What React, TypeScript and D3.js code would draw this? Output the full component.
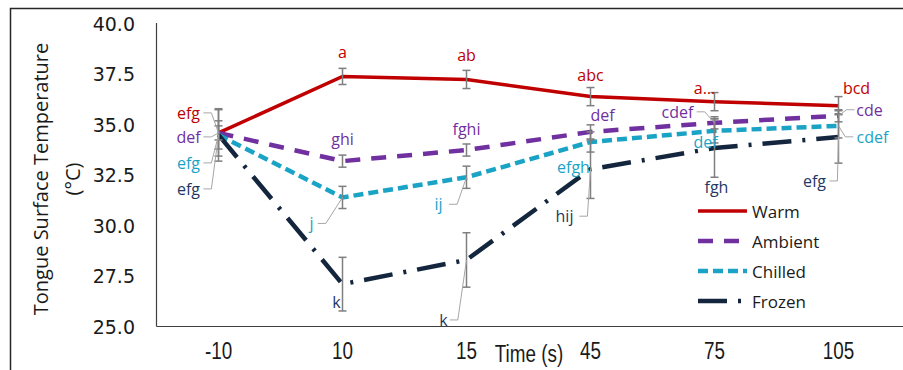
import React from 'react';
import * as d3 from 'd3';

// ---------- data ----------
const categories = ['-10', '10', '15', '45', '75', '105'];
const yTicks = [25, 27.5, 30, 32.5, 35, 37.5, 40];

const warm = [34.6, 37.4, 37.25, 36.4, 36.15, 35.95];
const ambient = [34.6, 33.2, 33.75, 34.65, 35.1, 35.45];
const chilled = [34.5, 31.4, 32.4, 34.15, 34.7, 34.95];
const frozen = [34.5, 27.1, 28.3, 32.8, 33.85, 34.4];

const warmErr = [1.15, 0.4, 0.45, 0.45, 0.45, 0.45];
const ambientErr = [0.35, 0.3, 0.3, 0.35, 0.3, 0.3];
const chilledErr = [0.7, 0.55, 0.55, 0.5, 0.6, 0.6];
const frozenErr = [1.3, 1.33, 1.35, 1.45, 1.45, 1.3];

const warmLetters = ['efg', 'a', 'ab', 'abc', 'a…', 'bcd'];
const ambientLetters = ['def', 'ghi', 'fghi', 'def', 'cdef', 'cde'];
const chilledLetters = ['efg', 'j', 'ij', 'efgh', 'def', 'cdef'];
const frozenLetters = ['efg', 'k', 'k', 'hij', 'fgh', 'efg'];

const seriesNames = ['Warm', 'Ambient', 'Chilled', 'Frozen'];

// ---------- layout / style (not data) ----------
// label offsets from point in px: [dx, dy, leader]
const warmLabelPos: [number, number, boolean][] = [[-30, -20, true], [0, -24, false], [0, -24, false], [0, -22, false], [-10, -14, false], [18, -18, false]];
const ambientLabelPos: [number, number, boolean][] = [[-30, 4, true], [0, -22, false], [0, -21, false], [12, -17, false], [-37, -11, true], [31, -6, true]];
const chilledLabelPos: [number, number, boolean][] = [[-30, 28, true], [-31, 26, true], [-28, 27, true], [-17, 25, false], [-9, 11, false], [34, 11, true]];
const frozenLabelPos: [number, number, boolean][] = [[-30, 54, true], [-6, 18, false], [-23, 60, true], [-26, 47, true], [2, 39, false], [-24, 44, true]];

const styles = [
  { color: '#C00000', label: '#C00000', width: 3.5, dash: null as string | null },
  { color: '#7030A0', label: '#7030A0', width: 4.5, dash: '15,11' },
  { color: '#1BA3C6', label: '#1BA3C6', width: 4.5, dash: '10,5' },
  { color: '#14263D', label: '#1F3864', width: 4.5, dash: '29,11,3,11' },
];

const W = 903;
const H = 370;
const plotLeft = 156.5;
const plotRight = 900.5;
const plotTop = 24;
const plotBottom = 326.5;

const labelFont = "'Open Sans', 'Noto Sans', sans-serif";
const axisFont = "'Liberation Sans', Arial, sans-serif";

export default function App() {
  const x = d3.scaleBand<string>().domain(categories).range([plotLeft, plotRight]).paddingInner(0).paddingOuter(0);
  const xc = (c: string) => (x(c) as number) + x.bandwidth() / 2;
  const y = d3.scaleLinear().domain([25, 40]).range([plotBottom, plotTop]);

  const values = [warm, ambient, chilled, frozen];
  const errs = [warmErr, ambientErr, chilledErr, frozenErr];
  const letters = [warmLetters, ambientLetters, chilledLetters, frozenLetters];
  const labelPos = [warmLabelPos, ambientLabelPos, chilledLabelPos, frozenLabelPos];

  const line = d3
    .line<number>()
    .x((_, i) => xc(categories[i]))
    .y((d) => y(d));

  return (
    <div style={{ position: 'absolute', left: 0, top: 0 }}>
      <svg width={W} height={H} style={{ display: 'block', background: '#fff' }}>
        {/* outer frame */}
        <rect x={10.5} y={8.5} width={1000} height={600} fill="none" stroke="#262626" strokeWidth={1.5} />

        {/* axes */}
        <line x1={plotLeft} x2={plotLeft} y1={23} y2={plotBottom} stroke="#404040" strokeWidth={1.2} />
        <line x1={plotLeft} x2={W} y1={plotBottom} y2={plotBottom} stroke="#404040" strokeWidth={1.2} />

        {/* y tick labels */}
        {yTicks.map((t) => (
          <text key={t} x={135} y={y(t)} textAnchor="end" dominantBaseline="central" fontFamily="'DejaVu Sans', sans-serif" fontSize={19} fill="#1a1a1a">
            {d3.format('.1f')(t)}
          </text>
        ))}

        {/* y title */}
        <g transform={`translate(40,179) rotate(-90)`}>
          <text x={0} y={0} textAnchor="middle" dominantBaseline="central" fontFamily={labelFont} fontSize={20} fill="#1a1a1a">
            Tongue Surface Temperature
          </text>
          <text x={0} y={32} textAnchor="middle" dominantBaseline="central" fontFamily={labelFont} fontSize={20} fill="#1a1a1a">
            (°C)
          </text>
        </g>

        {/* x tick labels */}
        {categories.map((c) => (
          <text key={c} transform={`translate(${xc(c)},359) scale(0.82,1)`} textAnchor="middle" fontFamily={axisFont} fontSize={23} fill="#1a1a1a">
            {c}
          </text>
        ))}
        <text transform="translate(529,362) scale(0.82,1)" textAnchor="middle" fontFamily={axisFont} fontSize={23} fill="#1a1a1a">
          Time (s)
        </text>

        {/* lines */}
        {values.map((vals, s) => (
          <path key={'l' + s} d={line(vals) as string} fill="none" stroke={styles[s].color} strokeWidth={styles[s].width} strokeDasharray={styles[s].dash ?? undefined} />
        ))}

        {/* error bars */}
        {values.map((vals, s) =>
          vals.map((v, i) => {
            const cx = xc(categories[i]);
            const y1 = y(v + errs[s][i]);
            const y2 = y(v - errs[s][i]);
            return (
              <g key={'e' + s + '-' + i} stroke="#7F7F7F" strokeWidth={1.5}>
                <line x1={cx} x2={cx} y1={y1} y2={y2} />
                <line x1={cx - 4} x2={cx + 4} y1={y1} y2={y1} />
                <line x1={cx - 4} x2={cx + 4} y1={y2} y2={y2} />
              </g>
            );
          })
        )}

        {/* data labels */}
        {values.map((vals, s) =>
          vals.map((v, i) => {
            const px = xc(categories[i]);
            const py = y(v);
            const [dx, dy, leader] = labelPos[s][i];
            const lx = px + dx;
            const ly = py + dy;
            const w = letters[s][i].length * 8.6;
            let leaderPath = null;
            if (leader) {
              const side = dx < 0 ? 1 : -1;
              const x0 = lx + side * (w / 2 + 2);
              const x1 = lx + side * (w / 2 + 10);
              leaderPath = <polyline points={`${x0},${ly} ${x1},${ly} ${px},${py}`} fill="none" stroke="#A6A6A6" strokeWidth={1} />;
            }
            return (
              <g key={'t' + s + '-' + i}>
                {leaderPath}
                <text x={lx} y={ly} textAnchor="middle" dominantBaseline="central" fontFamily={labelFont} fontSize={16} fill={styles[s].label}>
                  {letters[s][i]}
                </text>
              </g>
            );
          })
        )}

        {/* legend */}
        {seriesNames.map((n, s) => {
          const ly = 211 + s * 30;
          return (
            <g key={'lg' + n}>
              <line x1={698} x2={747} y1={ly} y2={ly} stroke={styles[s].color} strokeWidth={styles[s].width} strokeDasharray={styles[s].dash ?? undefined} />
              <text x={752} y={ly} dominantBaseline="central" fontFamily={labelFont} fontSize={17} fill="#1a1a1a">
                {n}
              </text>
            </g>
          );
        })}
      </svg>
    </div>
  );
}
